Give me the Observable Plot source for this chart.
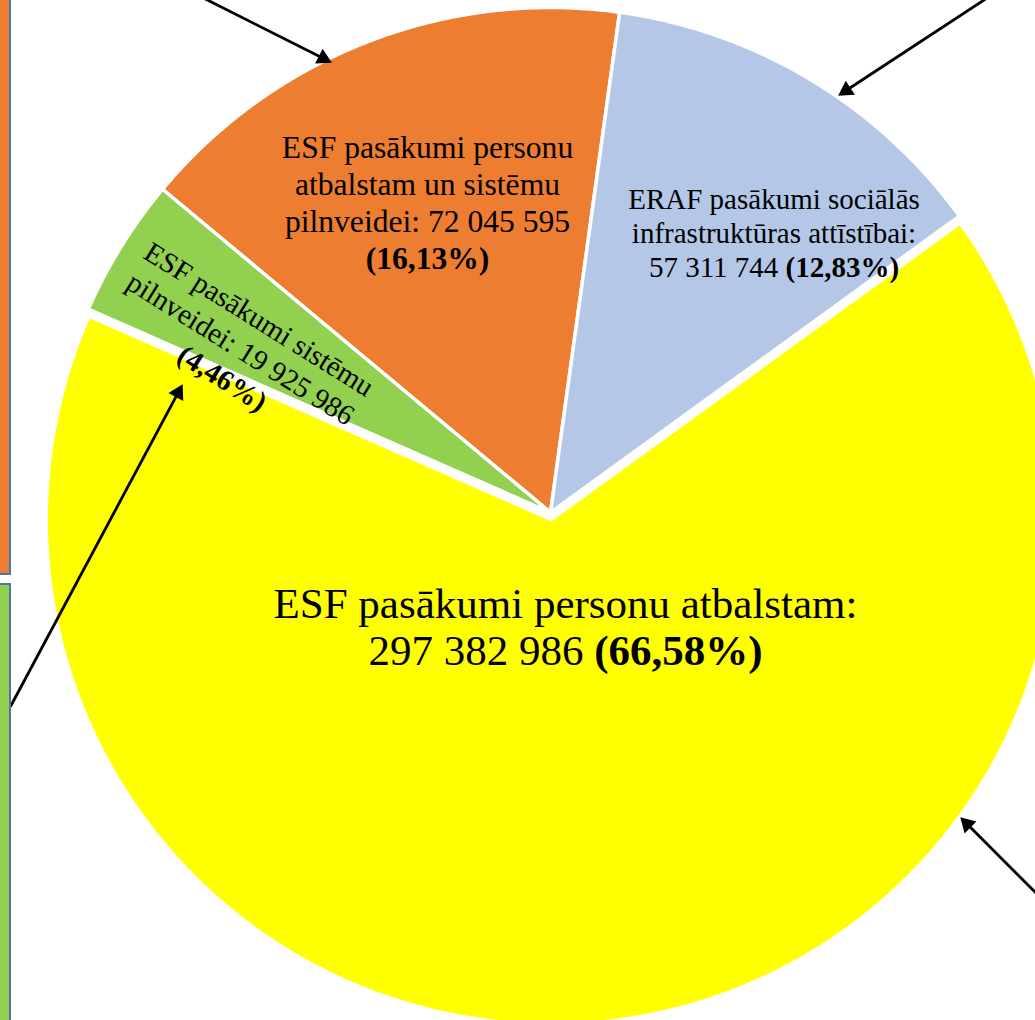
<!DOCTYPE html>
<html>
<head>
<meta charset="utf-8">
<script src="https://cdn.jsdelivr.net/npm/d3@7"></script>
<script src="https://cdn.jsdelivr.net/npm/@observablehq/plot@0.6"></script>
<style>
  html, body { margin: 0; padding: 0; background: #ffffff; }
  #wrap { position: relative; width: 1035px; height: 1020px; overflow: hidden; background: #ffffff; }
  #wrap svg { position: absolute; left: 0; top: 0; }
  .box { position: absolute; box-sizing: border-box; border: 2.5px solid #4A76A8; z-index: 2; }
</style>
</head>
<body>
<div id="wrap">
  <div class="box" style="left:-20px;top:-20px;width:30.5px;height:595px;background:#ED7D31"></div>
  <div class="box" style="left:-20px;top:582.5px;width:30.5px;height:500px;background:#92D050"></div>
</div>
<script>
// ---------- data ----------
const categories = [
  "ESF pasākumi personu\natbalstam un sistēmu\npilnveidei",
  "ERAF pasākumi sociālās\ninfrastruktūras attīstībai",
  "ESF pasākumi personu atbalstam",
  "ESF pasākumi sistēmu\npilnveidei"
];
const values = [72045595, 57311744, 297382986, 19925986];
const shares = [16.13, 12.83, 66.58, 4.46];
const colors = ["#ED7D31", "#B4C7E7", "#FFFF00", "#92D050"];
// how each label is composed ({c} category, {v} value, {p} share)
const labelTemplates = ["{c}: {v}\n{p}", "{c}:\n{v} {p}", "{c}:\n{v} {p}", "{c}: {v}\n{p}"];

// ---------- layout ----------
const W = 1035, H = 1020;
const pieLayout = {cx: 550, cy: 512, r: 505, startDeg: -50.2, explode: [0, 0, 7, 0]};
const labelLayout = [
  {x: 427, y: 201, size: 31.6, lh: 1.17, rotate: 0},
  {x: 773.5, y: 232, size: 29, lh: 1.17, rotate: 0},
  {x: 565, y: 626, size: 43, lh: 1.08, rotate: 0},
  {x: 241, y: 347, size: 29, lh: 1.2, rotate: 32}
];
// callout pointers (tail at the off-picture callout box, tip on the slice)
const arrowLayout = [
  {from: [188, -10], to: [331, 62]},
  {from: [998, -10], to: [838, 95]},
  {from: [10, 706], to: [182, 384]},
  {from: [1045, 902], to: [960, 817]}
];

// ---------- build ----------
const fmtValue = v => d3.format(",")(v).replace(/,/g, " ");
const fmtShare = s => "(" + s.toFixed(2).replace(".", ",") + "%)";

const startRad = pieLayout.startDeg * Math.PI / 180;
const arcs = d3.pie().sort(null).startAngle(startRad).endAngle(startRad + 2 * Math.PI)(values);

const slices = arcs.map((p, i) => {
  const mid = (p.startAngle + p.endAngle) / 2;
  const e = pieLayout.explode[i];
  const cx = pieLayout.cx + e * Math.sin(mid), cy = pieLayout.cy - e * Math.cos(mid);
  const r = pieLayout.r;
  const n = Math.max(4, Math.ceil((p.endAngle - p.startAngle) / (Math.PI / 720)));
  const ring = [[cx, cy]];
  for (let k = 0; k <= n; k++) {
    const a = p.startAngle + (p.endAngle - p.startAngle) * k / n;
    ring.push([cx + r * Math.sin(a), cy - r * Math.cos(a)]);
  }
  ring.push([cx, cy]);
  return {type: "Feature", properties: {category: categories[i]}, geometry: {type: "Polygon", coordinates: [ring]}};
});

const labels = categories.map((c, i) => ({
  text: labelTemplates[i].replace("{c}", c).replace("{v}", fmtValue(values[i])).replace("{p}", fmtShare(shares[i])),
  ...labelLayout[i]
}));

const heads = arrowLayout.map(a => {
  const dx = a.to[0] - a.from[0], dy = a.to[1] - a.from[1];
  const len = Math.hypot(dx, dy), ux = dx / len, uy = dy / len;
  return {
    x1: a.from[0], y1: a.from[1],
    x2: a.to[0] - ux * 10, y2: a.to[1] - uy * 10,
    hx: a.to[0] - ux * 9.3, hy: a.to[1] - uy * 9.3,
    angle: Math.atan2(dx, -dy) * 180 / Math.PI
  };
});

const textMarks = labels.map(l => Plot.text([l], {
  x: "x", y: "y", text: "text",
  fontSize: l.size, lineHeight: l.lh, rotate: l.rotate,
  fontFamily: "Liberation Serif", fill: "black",
  textAnchor: "middle", lineAnchor: "middle"
}));

const plot = Plot.plot({
  width: W, height: H, margin: 0,
  projection: {type: "identity", clip: false},
  color: {domain: categories, range: colors},
  style: {background: "transparent", overflow: "hidden"},
  marks: [
    Plot.geo(slices, {fill: d => d.properties.category, stroke: "white", strokeWidth: 3.5}),
    ...textMarks,
    Plot.link(heads, {x1: "x1", y1: "y1", x2: "x2", y2: "y2", stroke: "black", strokeWidth: 2.8}),
    Plot.dot(heads, {x: "hx", y: "hy", symbol: "triangle", r: 6.2, fill: "black", stroke: "none", rotate: "angle"})
  ]
});

// bold the percentage parts, keeping them as real text
const svgNS = "http://www.w3.org/2000/svg";
plot.querySelectorAll("text").forEach(t => {
  const parts = t.querySelectorAll("tspan").length ? [...t.querySelectorAll("tspan")] : [t];
  parts.forEach(n => {
    const s = n.textContent;
    const m = s.match(/\([\d,]+%\)/);
    if (!m) return;
    const before = s.slice(0, m.index), after = s.slice(m.index + m[0].length);
    n.textContent = before;
    const b = document.createElementNS(svgNS, "tspan");
    b.setAttribute("font-weight", "bold");
    b.textContent = m[0];
    n.appendChild(b);
    if (after) n.appendChild(document.createTextNode(after));
  });
});

document.getElementById("wrap").prepend(plot);
</script>
</body>
</html>
